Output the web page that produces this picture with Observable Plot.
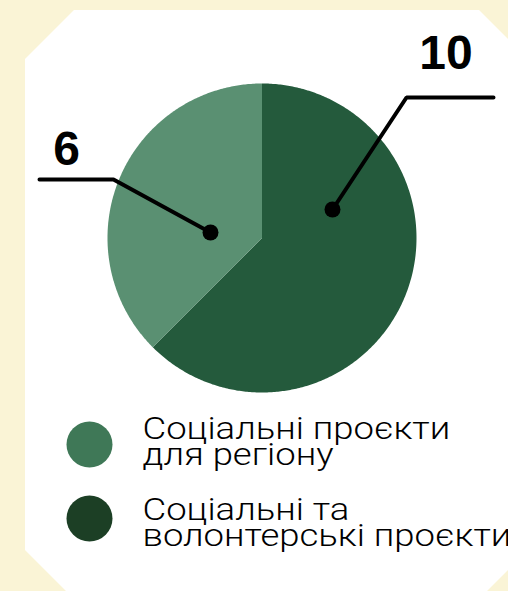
<!DOCTYPE html>
<html><head><meta charset="utf-8">
<script src="https://cdn.jsdelivr.net/npm/d3@7"></script>
<script src="https://cdn.jsdelivr.net/npm/@observablehq/plot@0.6"></script>
<style>
html,body{margin:0;padding:0;background:#FAF4D6;width:508px;height:591px;overflow:hidden}
#card{position:absolute;left:25px;top:10px;width:503px;height:589px;background:#fff;
clip-path:polygon(49px 0,calc(100% - 49px) 0,100% 49px,100% calc(100% - 49px),calc(100% - 49px) 100%,49px 100%,0 calc(100% - 49px),0 49px)}
#chart{position:absolute;left:0;top:0}
#chart svg{background:transparent;overflow:visible}
</style></head><body><div id="card"></div><div id="chart"></div>
<script>
// ---- data ----
const categories = ["Соціальні та волонтерські проєкти", "Соціальні проєкти для регіону"];
const values = [10, 6];
const valueLabels = ["10", "6"];
const legendOrder = ["Соціальні проєкти для регіону", "Соціальні та волонтерські проєкти"];
const legendLabels = ["Соціальні проєкти\nдля регіону", "Соціальні та\nволонтерські проєкти"];

// ---- styles / layout ----
const W = 508, H = 591;
const sliceColors = {"Соціальні та волонтерські проєкти": "#245A3C", "Соціальні проєкти для регіону": "#5A9072"};
const legendColors = {"Соціальні та волонтерські проєкти": "#1C3F25", "Соціальні проєкти для регіону": "#3F7857"};
const pie = {cx: 261.5, cy: 237.5, r: 154.5};
const annot = {
  "Соціальні та волонтерські проєкти": {dot: [70.5, -28.5], elbow: [406, 97], end: [493, 97], label: [445.5, 68]},
  "Соціальні проєкти для регіону": {dot: [-51.5, -5.5], elbow: [113, 179], end: [39, 179], label: [66, 164]}
};
const legendPos = {x: 89, textX: 142, ys: [444, 518], textBottoms: [464, 545], stretch: 1.14};

// ---- build ----
const data = categories.map((c, i) => ({category: c, value: values[i], label: valueLabels[i]}));
const arcs = d3.pie().sort(null).value(d => d.value)(data);
const slicePts = [];
for (const a of arcs) {
  const n = Math.max(8, Math.ceil((a.endAngle - a.startAngle) / 0.01));
  slicePts.push({category: a.data.category, x: pie.cx, y: pie.cy});
  for (let k = 0; k <= n; k++) {
    const t = a.startAngle + (a.endAngle - a.startAngle) * k / n;
    slicePts.push({category: a.data.category, x: pie.cx + pie.r * Math.sin(t), y: pie.cy - pie.r * Math.cos(t)});
  }
  slicePts.push({category: a.data.category, x: pie.cx, y: pie.cy});
}
const leaderPts = [], dots = [], labelsData = [];
for (const d of data) {
  const A = annot[d.category];
  const dot = [pie.cx + A.dot[0], pie.cy + A.dot[1]];
  leaderPts.push({category: d.category, x: A.end[0], y: A.end[1]});
  leaderPts.push({category: d.category, x: A.elbow[0], y: A.elbow[1]});
  leaderPts.push({category: d.category, x: dot[0], y: dot[1]});
  dots.push({x: dot[0], y: dot[1]});
  labelsData.push({x: A.label[0], y: A.label[1], text: d.label});
}
const legendData = legendOrder.map((c, i) => ({category: c, text: legendLabels[i], y: legendPos.ys[i], ty: legendPos.textBottoms[i]}));

const marks = [];
for (const c of categories) {
  marks.push(Plot.line(slicePts.filter(p => p.category === c), {x: "x", y: "y", fill: sliceColors[c], stroke: "none", curve: "linear"}));
}
marks.push(Plot.line(leaderPts, {x: "x", y: "y", z: "category", stroke: "#000", strokeWidth: 4, strokeLinejoin: "miter"}));
marks.push(Plot.dot(dots, {x: "x", y: "y", r: 8, fill: "#000"}));
marks.push(Plot.text(labelsData, {x: "x", y: "y", text: "text", fontSize: 48, fontWeight: 700, fill: "#000", textAnchor: "middle", lineAnchor: "bottom", fontFamily: "Liberation Sans, Arial, sans-serif"}));
marks.push(Plot.dot(legendData, {x: () => legendPos.x, y: "y", r: 23, fill: d => legendColors[d.category]}));
marks.push(Plot.text(legendData, {x: () => legendPos.textX, y: "ty", text: "text", fontSize: 32, fontWeight: 300, lineHeight: 0.8, textAnchor: "start", lineAnchor: "bottom", fill: "#000", fontFamily: "Roboto, sans-serif"}));

const chart = Plot.plot({
  width: W, height: H, margin: 0,
  x: {domain: [0, W], range: [0, W], axis: null},
  y: {domain: [0, H], range: [0, H], axis: null},
  style: {background: "transparent"},
  marks
});
const ns = "http://www.w3.org/2000/svg";
Array.from(chart.querySelectorAll("text"))
  .filter(t => legendLabels.some(l => t.textContent.replace(/\s+/g, "") === l.replace(/\s+/g, "")))
  .forEach(t => {
    const g = document.createElementNS(ns, "g");
    const x0 = legendPos.textX;
    g.setAttribute("transform", `translate(${x0},0) scale(${legendPos.stretch},1) translate(${-x0},0)`);
    t.parentNode.insertBefore(g, t);
    g.appendChild(t);
  });
document.getElementById("chart").appendChild(chart);
</script>
</body></html>
